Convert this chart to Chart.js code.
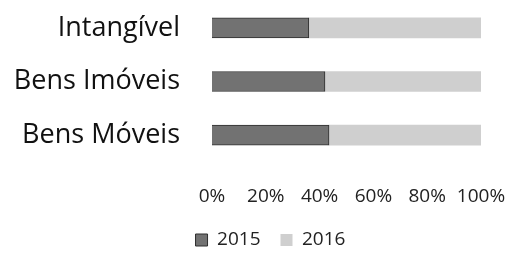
<!DOCTYPE html>
<html>
<head>
<meta charset="utf-8">
<script src="https://cdn.jsdelivr.net/npm/chart.js@4"></script>
<style>
  html, body { margin: 0; padding: 0; background: #fff; }
  #wrap { width: 512px; height: 253px; }
</style>
</head>
<body>
<div id="wrap"><canvas id="myChart"></canvas></div>
<script>
const categories = ['Intangível', 'Bens Imóveis', 'Bens Móveis'];
const values2015 = [36, 42, 43.5];
const values2016 = [64, 58, 56.5];
const tickValues = [0, 20, 40, 60, 80, 100];

const ctx = document.getElementById('myChart');

// nudge the legend to the right, like the original
const shiftLegend = {
  id: 'shiftLegend',
  afterUpdate(chart) {
    const lg = chart.legend;
    if (lg) {
      lg.left += 25;
      lg.right += 25;
    }
  },
};

new Chart(ctx, {
  type: 'bar',
  data: {
    labels: categories,
    datasets: [
      {
        label: '2015',
        data: values2015,
        backgroundColor: '#727272',
        borderColor: '#2e2e2e',
        borderWidth: 1,
        barThickness: 20,
      },
      {
        label: '2016',
        data: values2016,
        backgroundColor: '#cfcfcf',
        borderColor: '#cfcfcf',
        borderWidth: 0,
        barThickness: 20,
      },
    ],
  },
  plugins: [shiftLegend],
  options: {
    indexAxis: 'y',
    responsive: true,
    maintainAspectRatio: false,
    animation: false,
    layout: { padding: { left: 10, right: 31, top: 1, bottom: -6.5 } },
    plugins: {
      tooltip: { enabled: false },
      legend: {
        position: 'bottom',
        labels: {
          boxWidth: 12,
          boxHeight: 12,
          padding: 20,
          color: '#222',
          font: { family: 'Open Sans', size: 19 },
        },
      },
    },
    scales: {
      x: {
        stacked: true,
        min: 0,
        max: 100,
        afterBuildTicks(axis) {
          axis.ticks = tickValues.map(v => ({ value: v }));
        },
        afterFit(axis) {
          axis.height = 48.5;
          axis.paddingLeft = 0;
          axis.paddingRight = 0;
        },
        grid: { display: false, tickLength: 16 },
        border: { display: false },
        ticks: {
          padding: 7,
          autoSkip: false,
          color: '#222',
          font: { family: 'Open Sans', size: 19 },
          maxRotation: 0,
          callback: v => v + '%',
        },
      },
      y: {
        stacked: true,
        afterFit(axis) {
          axis.width = 202;
          axis.paddingTop = 0;
          axis.paddingBottom = 0;
        },
        grid: { display: false, tickLength: 28 },
        border: { display: false },
        ticks: {
          padding: 4,
          autoSkip: false,
          color: '#111',
          font: { family: 'Open Sans', size: 27 },
        },
      },
    },
  },
});
</script>
</body>
</html>
